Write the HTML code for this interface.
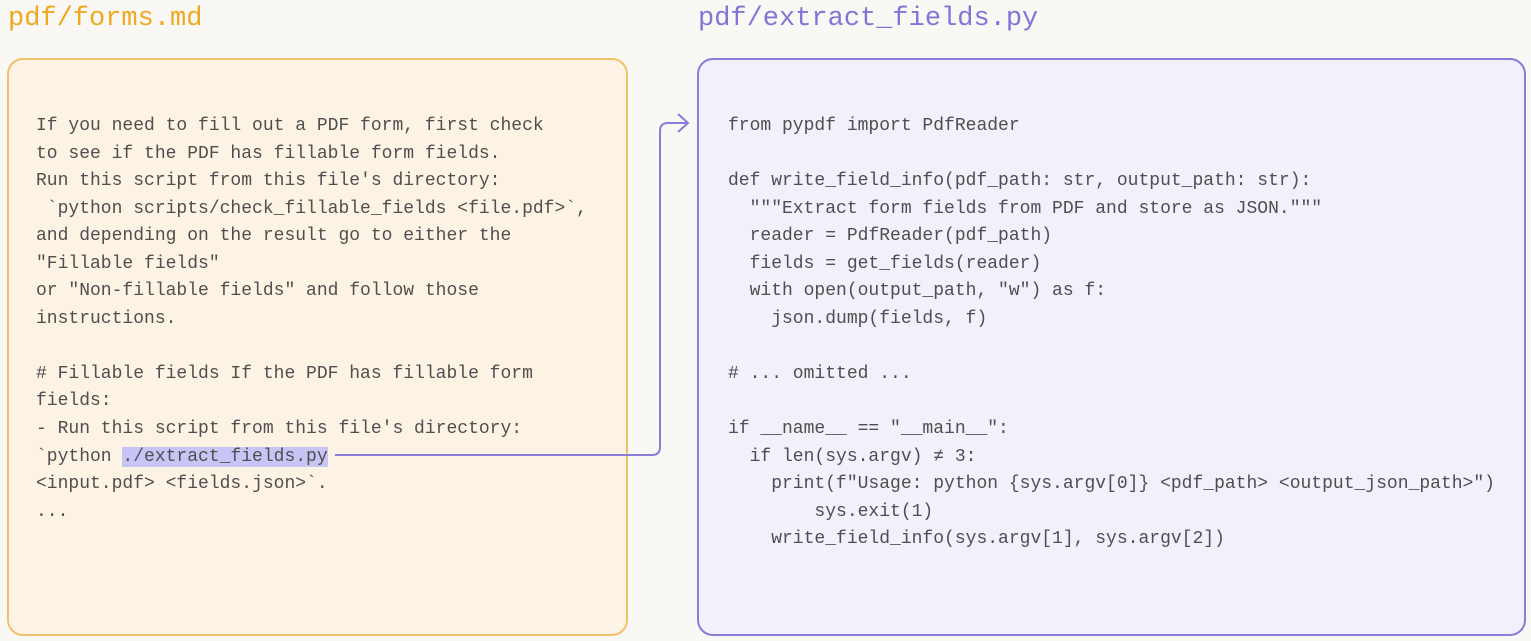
<!DOCTYPE html>
<html><head><meta charset="utf-8"><style>
body{margin:0;width:1531px;height:641px;background:#faf8f4;position:relative;overflow:hidden;font-family:"Liberation Mono",monospace;}
.t{position:absolute;top:1px;font-size:27px;line-height:36px;}
.box{position:absolute;top:58px;height:578px;border:2px solid;border-radius:16px;box-sizing:border-box;}
pre{position:absolute;margin:0;font-family:"Liberation Mono",monospace;font-size:18px;line-height:27.55px;color:#4f4f4f;}
.hl{background:#c9c4f6;}
</style></head><body>
<div class="t" style="left:8px;color:#eea823">pdf/forms.md</div>
<div class="t" style="left:698px;color:#8574d6">pdf/extract_fields.py</div>
<div class="box" style="left:7px;width:621px;background:#fdf3e5;border-color:#f2c06a"></div>
<div class="box" style="left:697px;width:829px;background:#f1f0fb;border-color:#8a7cd8"></div>
<pre style="left:36px;top:113px">If you need to fill out a PDF form, first check
to see if the PDF has fillable form fields.
Run this script from this file's directory:
 `python scripts/check_fillable_fields &lt;file.pdf&gt;`,
and depending on the result go to either the
"Fillable fields"
or "Non-fillable fields" and follow those
instructions.

# Fillable fields If the PDF has fillable form
fields:
- Run this script from this file's directory:
`python <span class="hl">./extract_fields.py</span>
&lt;input.pdf&gt; &lt;fields.json&gt;`.
...</pre>
<pre style="left:728px;top:113px">from pypdf import PdfReader

def write_field_info(pdf_path: str, output_path: str):
  """Extract form fields from PDF and store as JSON."""
  reader = PdfReader(pdf_path)
  fields = get_fields(reader)
  with open(output_path, "w") as f:
    json.dump(fields, f)

# ... omitted ...

if __name__ == "__main__":
  if len(sys.argv) ≠ 3:
    print(f"Usage: python {sys.argv[0]} &lt;pdf_path&gt; &lt;output_json_path&gt;")
        sys.exit(1)
    write_field_info(sys.argv[1], sys.argv[2])</pre>
<svg width="1531" height="641" style="position:absolute;left:0;top:0">
<path d="M335 455 H652 Q660 455 660 447 V131 Q660 123 668 123 H688" fill="none" stroke="#8a7cd8" stroke-width="2"/>
<path d="M678 114 L688 123 L678 132" fill="none" stroke="#8a7cd8" stroke-width="2"/>
</svg>
</body></html>
